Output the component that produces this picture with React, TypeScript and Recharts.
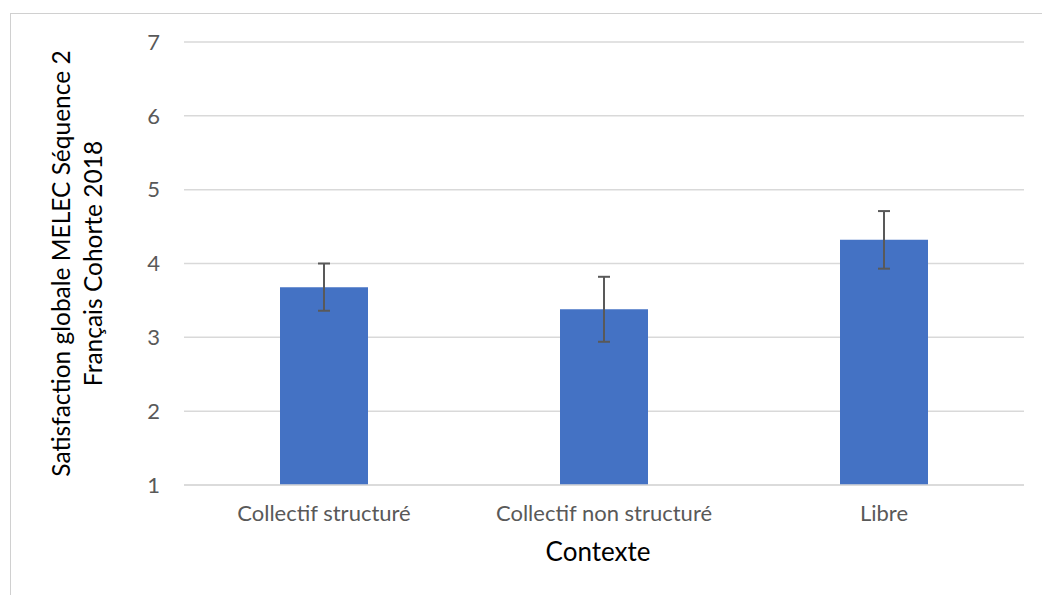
import { Bar, BarChart, CartesianGrid, ErrorBar, XAxis, YAxis } from "recharts";

const categories = ["Collectif structuré", "Collectif non structuré", "Libre"];
const means = [3.68, 3.38, 4.32];
const errors = [0.32, 0.44, 0.39];
const yTicks = [1, 2, 3, 4, 5, 6, 7];

const yTitle = ["Satisfaction globale MELEC Séquence 2", "Français Cohorte 2018"];
const xTitle = "Contexte";

const FONT = "Lato, 'Open Sans', sans-serif";

const data = categories.map((name, i) => ({ name, mean: means[i], err: errors[i] }));

function YTitle(props: any) {
  const vb = props.viewBox || {};
  const cy = (vb.y ?? 42) + (vb.height ?? 443) / 2;
  return (
    <g>
      <text x={70} y={cy} transform={`rotate(-90, 70, ${cy})`} textAnchor="middle" fontSize={24.5} fill="#000">
        {yTitle[0]}
      </text>
      <text x={102} y={cy} transform={`rotate(-90, 102, ${cy})`} textAnchor="middle" fontSize={24.5} fill="#000">
        {yTitle[1]}
      </text>
    </g>
  );
}

function XTitle() {
  return (
    <text x={598} y={561} textAnchor="middle" fontSize={26} fill="#000">
      {xTitle}
    </text>
  );
}

export default function App() {
  return (
    <div
      style={{
        position: "fixed",
        left: 0,
        top: 0,
        width: 1042,
        height: 595,
        overflow: "hidden",
        background: "#fff",
        fontFamily: FONT,
      }}
    >
      <div
        style={{
          position: "absolute",
          left: 10,
          top: 13,
          width: 1100,
          height: 700,
          border: "1px solid #d0d0d0",
        }}
      />
      <div style={{ position: "absolute", left: 0, top: 0 }}>
        <BarChart
          width={1042}
          height={595}
          data={data}
          margin={{ top: 42, right: 18, bottom: 25, left: 0 }}
          style={{ fontFamily: FONT }}
        >
          <CartesianGrid vertical={false} stroke="#d9d9d9" strokeWidth={1.5} />
          <XAxis
            dataKey="name"
            height={85}
            tickLine={false}
            tickSize={0}
            tickMargin={20}
            axisLine={{ stroke: "#d9d9d9", strokeWidth: 1.5 }}
            tick={{ fill: "#595959", fontSize: 22 }}
            label={<XTitle />}
          />
          <YAxis
            width={184}
            domain={[1, 7]}
            ticks={yTicks}
            allowDataOverflow
            tickLine={false}
            axisLine={false}
            tickSize={0}
            tickMargin={24}
            tick={{ fill: "#595959", fontSize: 22 }}
            label={<YTitle />}
          />
          <Bar dataKey="mean" fill="#4472C4" barSize={88} isAnimationActive={false}>
            <ErrorBar dataKey="err" width={6} stroke="#595959" strokeWidth={2} direction="y" />
          </Bar>
        </BarChart>
      </div>
    </div>
  );
}
